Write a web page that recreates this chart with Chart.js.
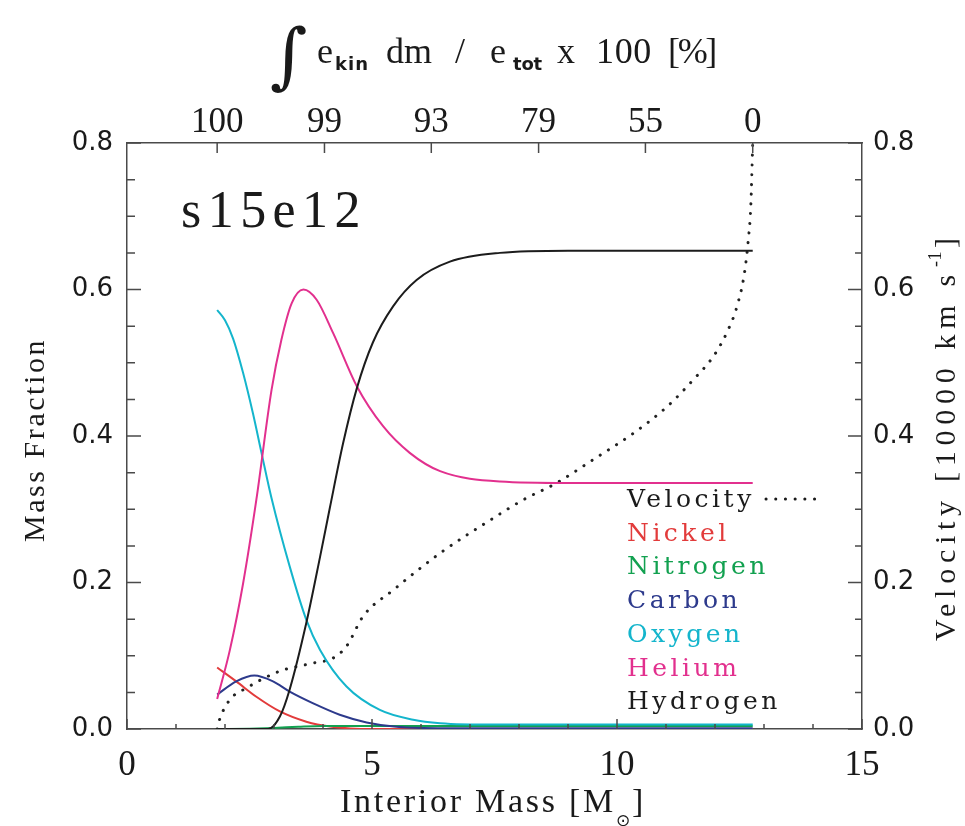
<!DOCTYPE html>
<html lang="en">
<head>
<meta charset="UTF-8">
<title>s15e12</title>
<script src="https://cdn.jsdelivr.net/npm/chart.js"></script>
<style>
    body { margin: 0; background: #fff; }
    #chartBox { width: 965px; height: 826px; }
</style>
</head>
<body>
<div id="chartBox"><canvas id="composition" width="965" height="826"></canvas></div>
<script>
// interior mass (M_sun) and mass fraction of each element
var hydrogenMass = [1.84, 2.5, 2.88, 3.12, 3.32, 3.66, 3.94, 4.14, 4.41, 4.69, 5.02, 5.43, 5.91, 6.59, 7.61, 9.0, 12.77];
var hydrogenFrac = [0, 0, 0, 0.017, 0.054, 0.145, 0.235, 0.302, 0.390, 0.465, 0.528, 0.577, 0.613, 0.638, 0.650, 0.653, 0.653];

var heliumMass = [1.84, 2.1, 2.37, 2.64, 2.95, 3.15, 3.36, 3.6, 3.87, 4.21, 4.69, 5.23, 5.77, 6.39, 7.61, 9.0, 12.77];
var heliumFrac = [0.041, 0.108, 0.199, 0.313, 0.463, 0.531, 0.581, 0.600, 0.586, 0.540, 0.468, 0.413, 0.377, 0.352, 0.338, 0.336, 0.336];

var oxygenMass = [1.84, 2.0, 2.165, 2.37, 2.57, 2.745, 2.95, 3.32, 3.66, 3.94, 4.48, 5.16, 5.84, 6.39, 7.5, 12.77];
var oxygenFrac = [0.572, 0.558, 0.533, 0.486, 0.431, 0.377, 0.315, 0.222, 0.149, 0.108, 0.058, 0.026, 0.0127, 0.008, 0.006, 0.006];

var carbonMass = [1.84, 2.23, 2.6, 2.98, 3.32, 3.8, 4.34, 4.89, 5.5, 6.5, 12.77];
var carbonFrac = [0.047, 0.065, 0.073, 0.065, 0.051, 0.035, 0.0195, 0.009, 0.003, 0.001, 0.001];

var nitrogenMass = [1.84, 2.5, 3.0, 3.5, 4.0, 5.0, 12.77];
var nitrogenFrac = [0, 0.0005, 0.0015, 0.003, 0.004, 0.004, 0.004];

var nickelMass = [1.84, 2.23, 2.64, 3.12, 3.66, 4.14, 5.0, 12.77];
var nickelFrac = [0.084, 0.065, 0.044, 0.024, 0.010, 0.0035, 0, 0];

// velocity in units of 10000 km/s (right axis)
var velocityMass = [1.84, 1.89, 2.1, 2.44, 3.12, 3.8, 4.21, 4.48, 4.82, 5.44, 6.39, 7.48, 8.09, 8.77, 9.52, 10.34, 11.02, 11.56, 11.97, 12.24, 12.45, 12.6, 12.68, 12.73, 12.77];
var velocity = [0, 0.013, 0.040, 0.056, 0.079, 0.090, 0.097, 0.113, 0.154, 0.190, 0.240, 0.288, 0.313, 0.336, 0.368, 0.404, 0.440, 0.477, 0.509, 0.541, 0.577, 0.622, 0.668, 0.713, 0.8];

// top axis: integrated kinetic energy fraction
var topTickMass = [1.84, 4.03, 6.21, 8.40, 10.58, 12.77];
var topTickLabels = ['100', '99', '93', '79', '55', '0'];

var axisColor = '#4a4a4a';
var textColor = '#1a1a1a';

function points(xs, ys) {
    return xs.map(function (x, i) { return { x: x, y: ys[i] }; });
}

// stretch a string to a given width with letter spacing
function fitText(ctx, text, x, y, width) {
    ctx.letterSpacing = '0px';
    var w = ctx.measureText(text).width;
    ctx.letterSpacing = ((width - w) / text.length) + 'px';
    ctx.fillText(text, x, y);
    ctx.letterSpacing = '0px';
}

var decorPlugin = {
    id: 'decor',
    afterDatasetsDraw: function (chart) {
        var ctx = chart.ctx;
        var a = chart.chartArea;
        var sx = chart.scales.x, sy = chart.scales.y, sy2 = chart.scales.y2, sx2 = chart.scales.x2;

        // inward tick marks
        ctx.save();
        ctx.strokeStyle = axisColor;
        ctx.lineWidth = 1.5;
        ctx.beginPath();
        sx.ticks.forEach(function (t) {
            var p = sx.getPixelForValue(t.value);
            var len = (t.value % 5 === 0) ? 10 : 5;
            ctx.moveTo(p, a.bottom);
            ctx.lineTo(p, a.bottom - len);
        });
        sy.ticks.forEach(function (t) {
            var p = sy.getPixelForValue(t.value);
            var major = Math.round(t.value * 100) % 20 === 0;
            ctx.moveTo(a.left, p);
            ctx.lineTo(a.left + (major ? 14 : 8), p);
        });
        sy2.ticks.forEach(function (t) {
            var p = sy2.getPixelForValue(t.value);
            var major = Math.round(t.value * 100) % 20 === 0;
            ctx.moveTo(a.right, p);
            ctx.lineTo(a.right - (major ? 14 : 7), p);
        });
        sx2.ticks.forEach(function (t) {
            var p = sx2.getPixelForValue(t.value);
            ctx.moveTo(p, a.top);
            ctx.lineTo(p, a.top + 10);
        });
        ctx.stroke();
        ctx.restore();
    },
    afterDraw: function (chart) {
        var ctx = chart.ctx;
        ctx.save();
        ctx.fillStyle = textColor;
        ctx.textAlign = 'left';
        ctx.textBaseline = 'alphabetic';

        // top title: integral of e_kin dm / e_tot x 100 [%]
        ctx.font = '72px "DejaVu Serif"';
        fitText(ctx, '\u222B', 270, 80, 30);
        ctx.font = '36px "Liberation Serif"';
        fitText(ctx, 'e', 317, 63, 17);
        fitText(ctx, 'dm', 386, 63, 46);
        fitText(ctx, '/', 455, 63, 19);
        fitText(ctx, 'e', 490, 63, 19);
        fitText(ctx, 'x', 557, 63, 18);
        fitText(ctx, '100', 596, 63, 56);
        fitText(ctx, '[%]', 668, 63, 47);
        ctx.font = 'bold 18px "DejaVu Sans"';
        fitText(ctx, 'kin', 335, 70, 34);
        fitText(ctx, 'tot', 513, 70, 29);

        // run name
        ctx.font = '52px "Liberation Serif"';
        fitText(ctx, 's15e12', 181, 227, 186);

        // bottom title
        ctx.font = '34px "Liberation Serif"';
        fitText(ctx, 'Interior Mass [M', 340, 812, 276);
        ctx.font = '17px "DejaVu Sans"';
        ctx.fillText('\u2299', 616, 826);
        ctx.font = '34px "Liberation Serif"';
        ctx.fillText(']', 632, 812);

        // left title
        ctx.save();
        ctx.translate(44, 542);
        ctx.rotate(-Math.PI / 2);
        ctx.font = '30px "Liberation Serif"';
        fitText(ctx, 'Mass Fraction', 0, 0, 204);
        ctx.restore();

        // right title
        ctx.save();
        ctx.translate(955, 641);
        ctx.rotate(-Math.PI / 2);
        ctx.font = '30px "Liberation Serif"';
        fitText(ctx, 'Velocity [10000 km s', 0, 0, 372);
        ctx.font = '18px "Liberation Serif"';
        fitText(ctx, '-1', 374, -14, 16);
        ctx.font = '30px "Liberation Serif"';
        ctx.fillText(']', 393, 0);
        ctx.restore();

        // legend, bottom up from Hydrogen
        ctx.font = '25px "DejaVu Serif"';
        var baseY = 507;
        chart.data.datasets.slice().reverse().forEach(function (ds, i) {
            ctx.fillStyle = ds.legendColor;
            ctx.letterSpacing = '3.5px';
            ctx.fillText(ds.label, 627, baseY + i * 33.7);
            ctx.letterSpacing = '0px';
        });
        // dotted sample after "Velocity"
        ctx.strokeStyle = textColor;
        ctx.lineWidth = 3;
        ctx.lineCap = 'round';
        ctx.setLineDash([0.1, 9.6]);
        ctx.beginPath();
        ctx.moveTo(766, 499);
        ctx.lineTo(818, 499);
        ctx.stroke();
        ctx.restore();
    }
};

var tickFontSide = { family: 'DejaVu Sans', size: 26 };
var tickFontEdge = { family: 'Liberation Serif', size: 35 };

function fracLabel(v) {
    return Math.round(v * 100) % 20 === 0 ? v.toFixed(1) : '';
}

var ctx = document.getElementById('composition').getContext('2d');
var compositionChart = new Chart(ctx, {
    type: 'line',
    data: {
        datasets: [{
            label: 'Hydrogen',
            data: points(hydrogenMass, hydrogenFrac),
            borderColor: '#1c1c1c',
            legendColor: '#1c1c1c'
        }, {
            label: 'Helium',
            data: points(heliumMass, heliumFrac),
            borderColor: '#e2308e',
            legendColor: '#e2308e'
        }, {
            label: 'Oxygen',
            data: points(oxygenMass, oxygenFrac),
            borderColor: '#14b5cc',
            legendColor: '#14b5cc'
        }, {
            label: 'Carbon',
            data: points(carbonMass, carbonFrac),
            borderColor: '#2d3a8c',
            legendColor: '#2d3a8c'
        }, {
            label: 'Nitrogen',
            data: points(nitrogenMass, nitrogenFrac),
            borderColor: '#12a150',
            legendColor: '#12a150'
        }, {
            label: 'Nickel',
            data: points(nickelMass, nickelFrac),
            borderColor: '#e23b3b',
            legendColor: '#e23b3b'
        }, {
            label: 'Velocity',
            data: points(velocityMass, velocity),
            yAxisID: 'y2',
            borderColor: '#222',
            legendColor: '#1a1a1a',
            borderWidth: 3,
            borderDash: [0.1, 9.6],
            borderCapStyle: 'round'
        }]
    },
    options: {
        responsive: false,
        animation: false,
        layout: { padding: 0 },
        plugins: {
            legend: { display: false },
            tooltip: { enabled: false }
        },
        elements: {
            point: { radius: 0 },
            line: { borderWidth: 2, cubicInterpolationMode: 'monotone', fill: false }
        },
        scales: {
            x: {
                type: 'linear',
                position: 'bottom',
                min: 0,
                max: 15,
                afterFit: function (s) { s.height = 97; },
                grid: { display: false, drawTicks: false },
                border: { color: axisColor, width: 1.5 },
                ticks: {
                    stepSize: 1,
                    autoSkip: false,
                    maxRotation: 0,
                    padding: 16,
                    color: textColor,
                    font: tickFontEdge,
                    callback: function (v) { return v % 5 === 0 ? String(v) : ''; }
                }
            },
            x2: {
                type: 'linear',
                position: 'top',
                min: 0,
                max: 15,
                afterFit: function (s) { s.height = 143; },
                afterBuildTicks: function (s) {
                    s.ticks = topTickMass.map(function (v) { return { value: v }; });
                },
                grid: { display: false, drawTicks: false },
                border: { color: axisColor, width: 1.5 },
                ticks: {
                    autoSkip: false,
                    maxRotation: 0,
                    padding: -1,
                    color: textColor,
                    font: tickFontEdge,
                    callback: function (v, i) { return topTickLabels[i]; }
                }
            },
            y: {
                type: 'linear',
                position: 'left',
                min: 0,
                max: 0.8,
                afterFit: function (s) { s.width = 127; },
                grid: { display: false, drawTicks: false },
                border: { color: axisColor, width: 1.5 },
                ticks: {
                    stepSize: 0.05,
                    autoSkip: false,
                    padding: 14,
                    color: textColor,
                    font: tickFontSide,
                    callback: fracLabel
                }
            },
            y2: {
                type: 'linear',
                position: 'right',
                min: 0,
                max: 0.8,
                afterFit: function (s) { s.width = 103; },
                grid: { display: false, drawTicks: false },
                border: { color: axisColor, width: 1.5 },
                ticks: {
                    stepSize: 0.05,
                    autoSkip: false,
                    padding: 11,
                    color: textColor,
                    font: tickFontSide,
                    callback: fracLabel
                }
            }
        }
    },
    plugins: [decorPlugin]
});
</script>
</body>
</html>
